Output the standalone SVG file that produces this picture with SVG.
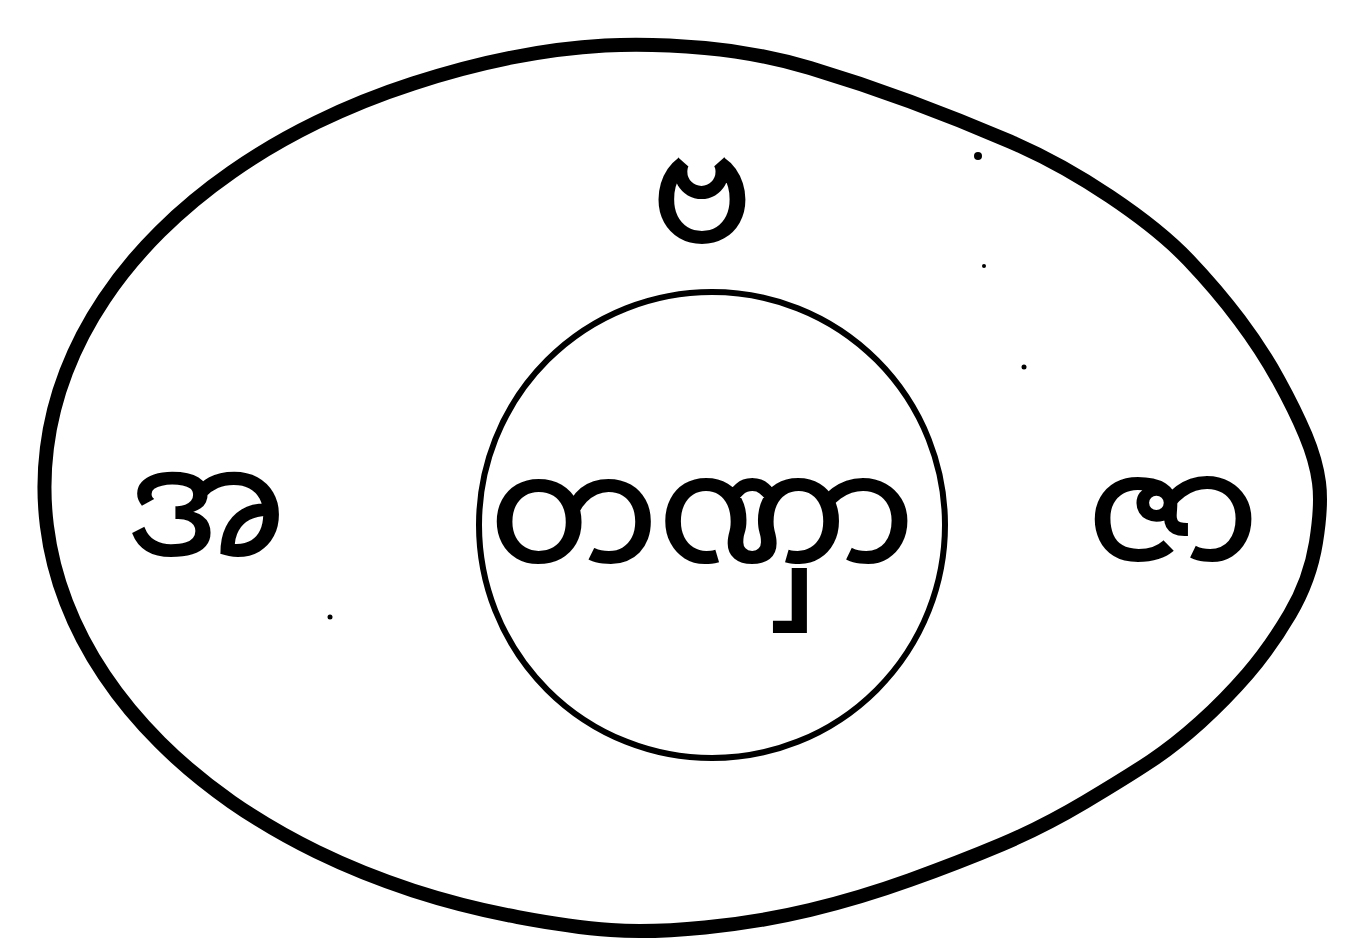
<svg xmlns="http://www.w3.org/2000/svg" width="1352" height="942" viewBox="0 0 1352 942">
<style>
.lbl{font-family:"Noto Sans Myanmar","Noto Sans","DejaVu Sans",sans-serif;font-size:150px;fill:#000;stroke:#000;stroke-width:2;text-anchor:middle}
.speck{fill:#000}
</style>
<rect width="1352" height="942" fill="#fff"/>
<g id="outer">
<path d="M605,45.5 Q650,43 705,48 Q760,53 810,68 Q860,83 910,101.5 Q960,120 1010,141.5 Q1060,163 1110,196.5 Q1160,230 1188.5,260 Q1217,290 1239.5,320 Q1262,350 1278.5,380 Q1295,410 1305.5,435 Q1316,460 1319,482.5 Q1322,505 1316,542.5 Q1310,580 1290,614 Q1270,648 1247.5,674 Q1225,700 1200,722.5 Q1175,745 1151,761 Q1127,777 1085,802 Q1043,827 1001.5,844.5 Q960,862 910,880 Q860,898 810,910 Q760,922 705,927.5 Q650,933 610.9,930.1 Q571.7,927.2 517.8,917.1 Q463.8,907 413.2,890.6 Q362.5,874.1 316.8,851.8 Q271,829.4 231.5,801.9 Q192,774.3 160,742.4 Q127.9,710.5 104.3,675.2 Q80.6,639.9 66.2,602.3 Q51.7,564.6 46.9,525.8 Q42,487 46.9,448.2 Q51.7,409.4 66.2,371.8 Q80.6,334.1 104.3,298.8 Q127.9,263.5 160,231.6 Q192,199.7 231.5,172.2 Q271,144.6 316.8,122.3 Q362.5,99.9 413.2,83.5 Q463.8,67 511.9,57.5 Q560,48 605,45.5 Z" fill="none" stroke="#000" stroke-width="14" stroke-linejoin="round"/>
</g>
<g id="inner">
<ellipse cx="712" cy="525" rx="233" ry="233" fill="none" stroke="#000" stroke-width="6"/>
</g>
<g id="label-top"><text class="lbl" x="702" y="242">ဗ</text></g>
<g id="label-left"><text class="lbl" x="206" y="555">အ</text></g>
<g id="label-center"><text class="lbl" x="702" y="562">တဏှာ</text></g>
<g id="label-right"><text class="lbl" x="1173" y="560">ဇာ</text></g>
<g id="specks">
<circle class="speck" cx="978" cy="156" r="4"/>
<circle class="speck" cx="984" cy="266" r="2"/>
<circle class="speck" cx="1024" cy="367" r="2.5"/>
<circle class="speck" cx="330" cy="617" r="2.5"/>
</g>
</svg>
